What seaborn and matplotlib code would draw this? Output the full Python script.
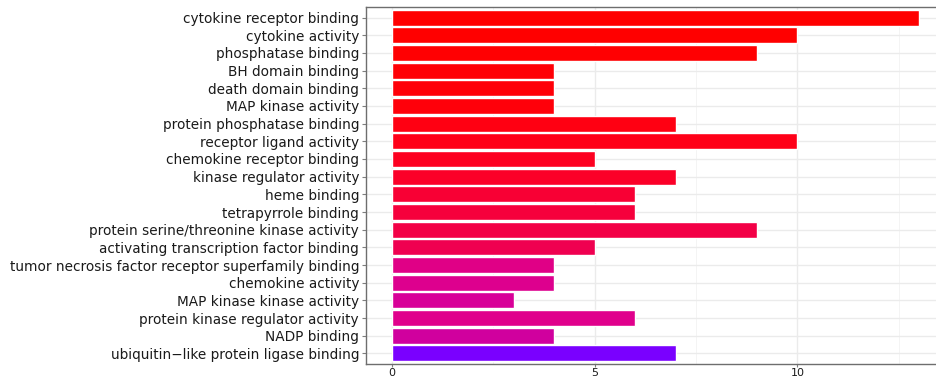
import numpy as np
import pandas as pd
import matplotlib
matplotlib.use("Agg")
import matplotlib.pyplot as plt
import seaborn as sns
from matplotlib.ticker import MultipleLocator

terms = [
    "cytokine receptor binding",
    "cytokine activity",
    "phosphatase binding",
    "BH domain binding",
    "death domain binding",
    "MAP kinase activity",
    "protein phosphatase binding",
    "receptor ligand activity",
    "chemokine receptor binding",
    "kinase regulator activity",
    "heme binding",
    "tetrapyrrole binding",
    "protein serine/threonine kinase activity",
    "activating transcription factor binding",
    "tumor necrosis factor receptor superfamily binding",
    "chemokine activity",
    "MAP kinase kinase activity",
    "protein kinase regulator activity",
    "NADP binding",
    "ubiquitin\u2212like protein ligase binding",
]
counts = [13, 10, 9, 4, 4, 4, 7, 10, 5, 7, 6, 6, 9, 5, 4, 4, 3, 6, 4, 7]
fills = [
    "#FF0000", "#FF0000", "#FF0002", "#FF0006", "#FF0008", "#FF000A",
    "#FF0012", "#FF0018", "#FD0020", "#FB0028", "#F80034", "#F6003C",
    "#F30046", "#EF0050", "#E00086", "#DD008E", "#D80098", "#E0008C",
    "#D0009E", "#7A00FF",
]

df = pd.DataFrame({"term": terms, "count": counts})

sns.set_style("white")
plt.rcParams["font.family"] = ["DejaVu Sans"]

fig = plt.figure(figsize=(9.37, 3.78), dpi=100)
ax = fig.add_axes([366 / 937, 1 - 364 / 378, 1 - 366 / 937, (364 - 7) / 378])

sns.barplot(data=df, y="term", x="count", hue="term", palette=fills,
            legend=False, width=0.9, saturation=1, ax=ax, zorder=3)

ax.set_xlim(-0.64, 13.44)
ax.set_ylim(len(terms) - 0.4, -0.6)
ax.xaxis.set_major_locator(MultipleLocator(5))
ax.xaxis.set_minor_locator(MultipleLocator(2.5))
ax.grid(True, which="major", color="#EBEBEB", linewidth=1.0, zorder=0)
ax.grid(True, which="minor", axis="x", color="#F2F2F2", linewidth=0.6, zorder=0)
ax.set_axisbelow(True)
ax.set_xlabel("")
ax.set_ylabel("")

for side in ["left", "bottom", "top"]:
    ax.spines[side].set_color("#6E6E6E")
    ax.spines[side].set_linewidth(1.0)
ax.spines["right"].set_visible(False)

ax.tick_params(axis="y", which="major", length=3, width=0.8, color="#7F7F7F",
               labelsize=9.8, labelcolor="#1A1A1A", pad=2, left=True)
ax.tick_params(axis="x", which="major", length=2, width=0.8, color="#7F7F7F",
               labelsize=8, labelcolor="#1A1A1A", pad=1, bottom=True)
ax.tick_params(axis="x", which="minor", length=0)

fig.savefig("out.png", dpi=100)
